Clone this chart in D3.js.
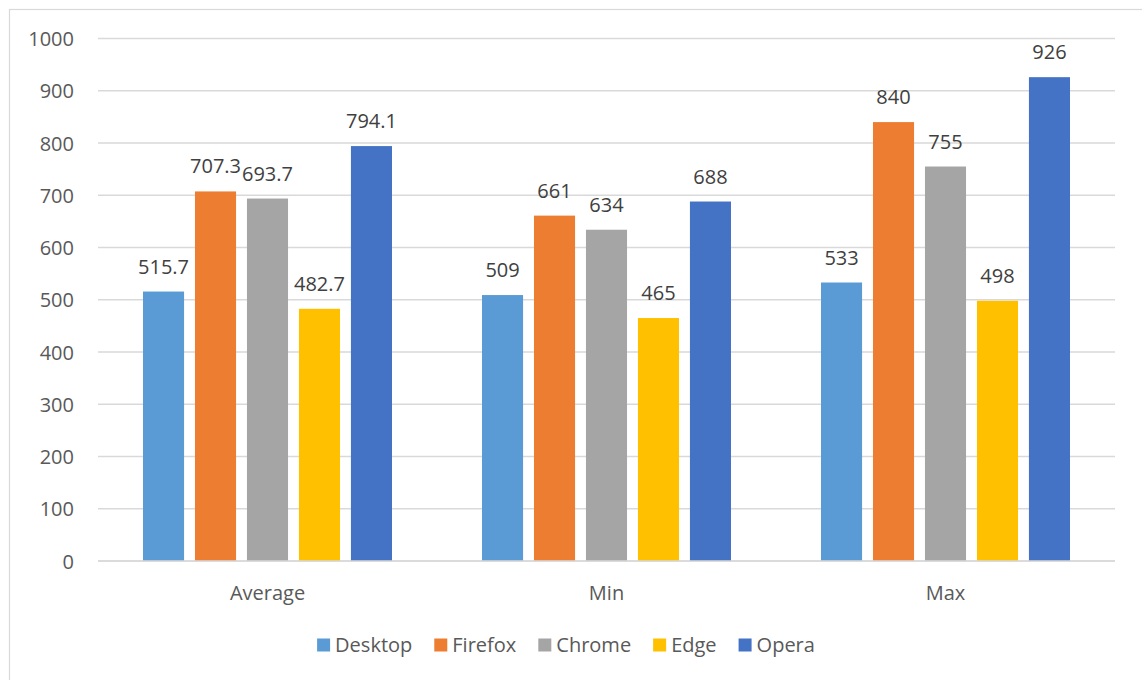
<!DOCTYPE html>
<html>
<head>
<meta charset="utf-8">
<script src="https://d3js.org/d3.v7.min.js"></script>
<style>
  body { margin: 0; background: #fff; }
  text { font-family: "Open Sans", sans-serif; fill: #595959; }
</style>
</head>
<body>
<div class="chart"></div>
<script>
var categories = ['Average', 'Min', 'Max'];
var seriesNames = ['Desktop', 'Firefox', 'Chrome', 'Edge', 'Opera'];
var desktop = [515.7, 509, 533];
var firefox = [707.3, 661, 840];
var chrome = [693.7, 634, 755];
var edge = [482.7, 465, 498];
var opera = [794.1, 688, 926];
var yTicks = [0, 100, 200, 300, 400, 500, 600, 700, 800, 900, 1000];
var colors = ['#5B9BD5', '#ED7D31', '#A5A5A5', '#FFC000', '#4472C4'];

var seriesValues = [desktop, firefox, chrome, edge, opera];

var width = 1142, height = 680;
var plot = { left: 98, right: 1115, top: 38.5, bottom: 561 };
var fontSize = 20;

var svg = d3.select('.chart').append('svg')
  .attr('width', width)
  .attr('height', height);

// outer chart border
svg.append('rect')
  .attr('x', 9.5).attr('y', 9.5)
  .attr('width', width).attr('height', height)
  .attr('fill', 'none')
  .attr('stroke', '#d9d9d9')
  .attr('stroke-width', 1.2);

var x0 = d3.scaleBand()
  .domain(categories)
  .range([plot.left, plot.right]);

var groupPad = 45;
var x1 = d3.scaleBand()
  .domain(seriesNames)
  .range([groupPad, x0.bandwidth() - groupPad])
  .paddingInner(0.21);

var y = d3.scaleLinear()
  .domain([0, 1000])
  .range([plot.bottom, plot.top]);

// gridlines
svg.append('g').attr('class', 'grid')
  .selectAll('line')
  .data(yTicks)
  .enter().append('line')
    .attr('x1', plot.left)
    .attr('x2', plot.right)
    .attr('y1', function(d) { return y(d); })
    .attr('y2', function(d) { return y(d); })
    .attr('stroke', '#d9d9d9')
    .attr('stroke-width', 1.5);

// y axis labels
var yAxis = d3.axisLeft(y).tickValues(yTicks).tickFormat(d3.format('d'))
  .tickSize(0).tickPadding(0);
var yG = svg.append('g')
  .attr('transform', 'translate(74,0)')
  .call(yAxis);
yG.select('.domain').remove();
yG.selectAll('text')
  .attr('font-size', fontSize)
  .attr('font-family', '"Open Sans", sans-serif')
  .attr('fill', '#595959')
  .attr('dy', '0.35em');

// bars
var groups = svg.append('g').attr('class', 'bars')
  .selectAll('g')
  .data(categories)
  .enter().append('g')
    .attr('transform', function(d) { return 'translate(' + x0(d) + ',0)'; });

groups.each(function(cat, ci) {
  var g = d3.select(this);
  var rows = seriesNames.map(function(name, si) {
    return { name: name, value: seriesValues[si][ci], color: colors[si] };
  });
  g.selectAll('rect')
    .data(rows)
    .enter().append('rect')
      .attr('x', function(d) { return x1(d.name); })
      .attr('y', function(d) { return y(d.value); })
      .attr('width', x1.bandwidth())
      .attr('height', function(d) { return y(0) - y(d.value); })
      .attr('fill', function(d) { return d.color; });
  g.selectAll('text.value')
    .data(rows)
    .enter().append('text')
      .attr('class', 'value')
      .attr('x', function(d) { return x1(d.name) + x1.bandwidth() / 2; })
      .attr('y', function(d) { return y(d.value) - 18; })
      .attr('text-anchor', 'middle')
      .attr('font-size', fontSize)
      .style('fill', '#404040')
      .text(function(d) { return d.value; });
});

// baseline
svg.append('line')
  .attr('x1', plot.left).attr('x2', plot.right)
  .attr('y1', y(0)).attr('y2', y(0))
  .attr('stroke', '#d9d9d9')
  .attr('stroke-width', 1.5);

// category labels
svg.append('g').attr('class', 'categories')
  .selectAll('text')
  .data(categories)
  .enter().append('text')
    .attr('x', function(d) { return x0(d) + x0.bandwidth() / 2; })
    .attr('y', 600)
    .attr('text-anchor', 'middle')
    .attr('font-size', fontSize)
    .text(function(d) { return d; });

// legend
var legend = svg.append('g').attr('class', 'legend');
var items = legend.selectAll('g')
  .data(seriesNames)
  .enter().append('g');
items.append('rect')
  .attr('width', 13).attr('height', 13)
  .attr('y', 638.5)
  .attr('fill', function(d, i) { return colors[i]; });
items.append('text')
  .attr('x', 18)
  .attr('y', 652)
  .attr('font-size', fontSize)
  .text(function(d) { return d; });

var cursor = 0, positions = [];
items.each(function() {
  var w = d3.select(this).select('text').node().getComputedTextLength();
  positions.push(cursor);
  cursor += 18 + w + 22;
});
var totalW = cursor - 22;
var startX = 566 - totalW / 2;
items.attr('transform', function(d, i) { return 'translate(' + (startX + positions[i]) + ',0)'; });
</script>
</body>
</html>
